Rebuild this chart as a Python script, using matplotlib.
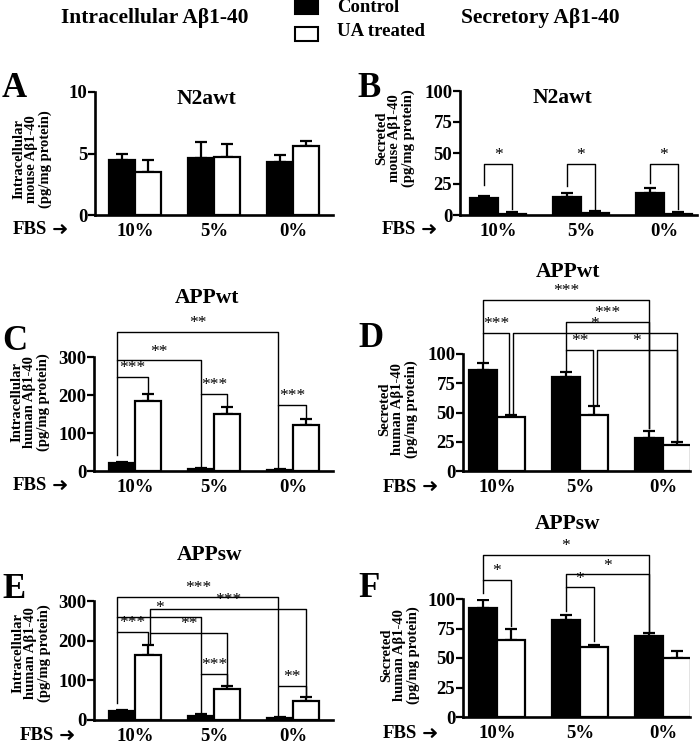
import matplotlib
matplotlib.use('Agg')
import matplotlib.pyplot as plt
from matplotlib.patches import Rectangle
import numpy as np

plt.rcParams['font.family'] = ['Liberation Serif', 'DejaVu Sans']
plt.rcParams['font.weight'] = 'bold'

groups = ['10%', '5%', '0%']

# panel A - intracellular, N2awt
a_ctrl = [4.45, 4.6, 4.3]
a_ctrl_err = [0.55, 1.3, 0.6]
a_ua = [3.5, 4.7, 5.6]
a_ua_err = [0.95, 1.05, 0.45]

# panel B - secreted, N2awt
b_ctrl = [13.7, 14.8, 17.5]
b_ctrl_err = [1.8, 3.2, 4.5]
b_ua = [1.0, 1.6, 1.2]
b_ua_err = [1.4, 1.6, 1.4]

# panel C - intracellular, APPwt
c_ctrl = [20, 6, 3]
c_ctrl_err = [5, 3, 1.5]
c_ua = [183, 150, 121]
c_ua_err = [20, 18, 17]

# panel D - secreted, APPwt
d_ctrl = [86, 80.5, 28]
d_ctrl_err = [6, 4.5, 6.5]
d_ua = [46, 48, 22]
d_ua_err = [2, 7.5, 2.5]

# panel E - intracellular, APPsw
e_ctrl = [23, 10, 5]
e_ctrl_err = [2, 6, 3]
e_ua = [164, 77, 49]
e_ua_err = [26, 9, 10]

# panel F - secreted, APPsw
f_ctrl = [92, 82, 68.5]
f_ctrl_err = [7, 4.5, 2.5]
f_ua = [65.5, 59, 50]
f_ua_err = [9.5, 2, 6]

# significance brackets: (group1, bar1, dx1, group2, bar2, dx2, top, leg1 bottom, leg2 bottom, label)
b_sig = [(0, 0, 0, 0, 1, 0, 41, 24, 5, '*'),
         (1, 0, 0, 1, 1, 0, 41, 23, 5, '*'),
         (2, 0, 0, 2, 1, 0, 41, 26, 5, '*')]
c_sig = [(0, 0, -0.06, 0, 1, 0, 247, 41, 205, '***'),
         (0, 0, -0.06, 1, 0, 0, 291, 247, 203, '**'),
         (0, 0, -0.06, 2, 0, -0.02, 366, 291, 175, '**'),
         (1, 0, 0, 1, 1, 0, 203, 12, 170, '***'),
         (2, 0, -0.02, 2, 1, 0, 175, 8, 142, '***')]
d_sig = [(0, 0, 0, 2, 0, 0, 146, 118, 37, '***'),
         (0, 0, 0, 0, 1, -0.02, 118, 93, 50, '***'),
         (0, 1, 0.02, 2, 1, 0, 118, 50, 26, '*'),
         (1, 0, 0, 2, 0, 0, 127.5, 103, 37, '***'),
         (1, 0, 0, 1, 1, -0.01, 103.5, 86, 57, '**'),
         (1, 1, 0.03, 2, 1, 0, 103.5, 57, 26, '*')]
e_sig = [(0, 0, -0.06, 2, 0, -0.02, 310, 260, 87, '***'),
         (0, 1, 0.03, 2, 1, 0, 281, 220, 59, '***'),
         (0, 0, -0.06, 1, 0, 0, 260, 222, 116, '*'),
         (0, 0, -0.06, 0, 1, 0, 222, 42, 195, '***'),
         (0, 1, 0.03, 1, 1, 0, 220, 195, 88, '**'),
         (1, 0, 0, 1, 1, 0, 116, 20, 88, '***'),
         (2, 0, -0.02, 2, 1, 0, 86, 10, 59, '**')]
f_sig = [(0, 0, 0, 2, 0, 0, 137.7, 116, 72, '*'),
         (1, 0, 0, 2, 0, 0, 121, 110, 72, '*'),
         (0, 0, 0, 0, 1, 0, 116, 105, 77, '*'),
         (1, 0, 0, 1, 1, 0, 110, 90, 64, '*')]

W, H = 700, 742
fig = plt.figure(figsize=(W / 100, H / 100), dpi=100)


def px_axes(l, t, r, b):
    return fig.add_axes([l / W, 1 - b / H, (r - l) / W, (b - t) / H])


def draw_panel(ax, ctrl, ctrl_err, ua, ua_err, ymax, yticks, xlim, width, sig):
    x = np.arange(len(groups))
    ax.bar(x - width / 2, ctrl, width, color='black', edgecolor='black', linewidth=1.6, zorder=2)
    ax.bar(x + width / 2, ua, width, color='white', edgecolor='black', linewidth=1.6, zorder=2)
    ax.errorbar(x - width / 2, ctrl, yerr=[np.zeros(3), ctrl_err], fmt='none',
                ecolor='black', elinewidth=1.6, capsize=4.5, capthick=1.6, zorder=1)
    ax.errorbar(x + width / 2, ua, yerr=[np.zeros(3), ua_err], fmt='none',
                ecolor='black', elinewidth=1.6, capsize=4.5, capthick=1.6, zorder=1)
    ax.set_xlim(*xlim)
    ax.set_ylim(0, ymax)
    ax.set_yticks(yticks)
    ax.set_xticks(x)
    ax.set_xticklabels(groups)
    for s in ['top', 'right']:
        ax.spines[s].set_visible(False)
    for s in ['left', 'bottom']:
        ax.spines[s].set_linewidth(1.9)
    ax.tick_params(axis='y', direction='out', length=5, width=1.6, labelsize=13.5, pad=0.5)
    ax.tick_params(axis='x', length=0, labelsize=13.5, pad=6)
    for g1, s1, d1, g2, s2, d2, top, y1, y2, lab in sig:
        xa = g1 + (s1 - 0.5) * width + d1
        xb = g2 + (s2 - 0.5) * width + d2
        ax.plot([xa, xa, xb, xb], [y1, top, top, y2], color='black', lw=1.0,
                clip_on=False, zorder=3)
        ax.annotate(lab, xy=((xa + xb) / 2, top), xytext=(0, 0.5), textcoords='offset points',
                    ha='center', va='bottom', fontsize=12.5, fontweight='normal',
                    annotation_clip=False)


axA = px_axes(95, 92, 333, 215)
draw_panel(axA, a_ctrl, a_ctrl_err, a_ua, a_ua_err, 10, [0, 5, 10], (-0.506, 2.506), 0.33, [])
axB = px_axes(460, 91, 697, 215)
draw_panel(axB, b_ctrl, b_ctrl_err, b_ua, b_ua_err, 100, [0, 25, 50, 75, 100], (-0.46, 2.40), 0.337, b_sig)
axC = px_axes(94, 357, 333, 471)
draw_panel(axC, c_ctrl, c_ctrl_err, c_ua, c_ua_err, 300, [0, 100, 200, 300], (-0.52, 2.506), 0.33, c_sig)
axD = px_axes(463, 354, 690, 471)
draw_panel(axD, d_ctrl, d_ctrl_err, d_ua, d_ua_err, 100, [0, 25, 50, 75, 100], (-0.41, 2.325), 0.34, d_sig)
axE = px_axes(94, 601, 333, 720)
draw_panel(axE, e_ctrl, e_ctrl_err, e_ua, e_ua_err, 300, [0, 100, 200, 300], (-0.52, 2.506), 0.33, e_sig)
axF = px_axes(463, 599, 690, 717)
draw_panel(axF, f_ctrl, f_ctrl_err, f_ua, f_ua_err, 100, [0, 25, 50, 75, 100], (-0.41, 2.325), 0.34, f_sig)


def ftext(x, y, s, **kw):
    fig.text(x / W, 1 - y / H, s, **kw)


# column headers and legend
ftext(155, 18, 'Intracellular Aβ1-40', fontsize=15.5, ha='center', va='center')
ftext(540, 18, 'Secretory Aβ1-40', fontsize=15.5, ha='center', va='center')
fig.patches.append(Rectangle((295 / W, 1 - 14 / H), 23 / W, 14 / H, transform=fig.transFigure,
                             facecolor='black', edgecolor='black', lw=1.5))
fig.patches.append(Rectangle((295 / W, 1 - 41 / H), 23 / W, 14 / H, transform=fig.transFigure,
                             facecolor='white', edgecolor='black', lw=1.5))
ftext(337, 8, 'Control', fontsize=13.5, ha='left', va='center')
ftext(337, 31, 'UA treated', fontsize=13.5, ha='left', va='center')

# panel letters
for lx, ly, s in [(2, 97, 'A'), (357, 97, 'B'), (2, 350, 'C'), (358, 347, 'D'), (2, 598, 'E'), (358, 597, 'F')]:
    ftext(lx, ly, s, fontsize=25, ha='left', va='baseline')

# panel titles
for tx, ty, s in [(206, 99, 'N2awt'), (562, 98, 'N2awt'), (207, 298, 'APPwt'),
                  (568, 272, 'APPwt'), (210, 555, 'APPsw'), (568, 524, 'APPsw')]:
    ftext(tx, ty, s, fontsize=15.5, ha='center', va='center')

# y labels
for yx, yy, s in [(32, 159, 'Intracellular\nmouse Aβ1-40\n(pg/mg protein)'),
                  (395, 138, 'Secreted\nmouse Aβ1-40\n(pg/mg protein)'),
                  (30, 402, 'Intracellular\nhuman Aβ1-40\n(pg/mg protein)'),
                  (398, 409, 'Secreted\nhuman Aβ1-40\n(pg/mg protein)'),
                  (31, 653, 'Intracellular\nhuman Aβ1-40\n(pg/mg protein)'),
                  (400, 655, 'Secreted\nhuman Aβ1-40\n(pg/mg protein)')]:
    ftext(yx, yy, s, fontsize=10.5, ha='center', va='center', rotation=90,
          multialignment='center', linespacing=1.0)

# FBS labels with arrows
for fx, fy in [(13, 230), (382, 230), (13, 486), (383, 487), (20, 736), (383, 734)]:
    ftext(fx, fy, 'FBS', fontsize=13.5, ha='left', va='center')
    ftext(fx + 39, fy, '➜', fontsize=14, ha='left', va='center', family='DejaVu Sans')

fig.savefig('out.png', dpi=100)
